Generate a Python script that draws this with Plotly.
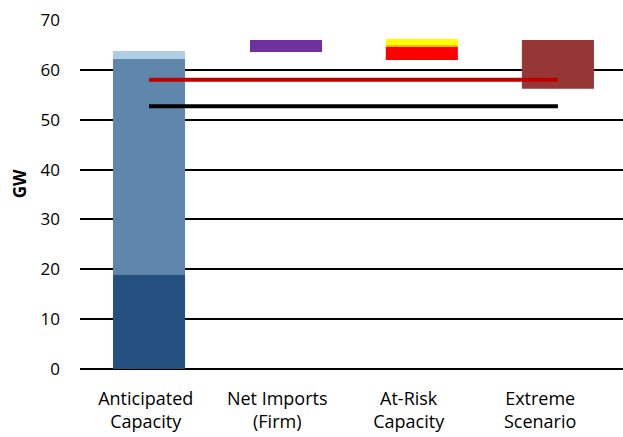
import plotly.graph_objects as go

# Category labels and their positions on the numeric x axis
categories = ["Anticipated<br>Capacity", "Net Imports<br>(Firm)", "At-Risk<br>Capacity", "Extreme<br>Scenario"]
category_pos = [0.5, 1.5, 2.5, 3.5]
bar_pos = [0.525, 1.567, 2.60, 3.635]
bar_width = 0.548

# Anticipated capacity stack (GW)
anticipated_base = [19.0]
anticipated_mid = [43.2]
anticipated_top = [1.6]

# Floating blocks (GW): base and height
net_imports_base = 63.6
net_imports = 2.4
at_risk_red = 2.6
at_risk_orange = 0.4
at_risk_yellow = 1.2
at_risk_base = 62.0
extreme_base = 56.2
extreme = 9.8

# Reference levels (GW)
red_level = 58.0
black_level = 52.7

fig = go.Figure()

def block(x, y, base, color):
    fig.add_trace(go.Bar(x=[x], y=[y], base=[base], width=bar_width,
                         marker=dict(color=color, line=dict(width=0)),
                         showlegend=False, hoverinfo="skip"))

block(bar_pos[0], anticipated_base[0], 0, "#23507F")
block(bar_pos[0], anticipated_mid[0], anticipated_base[0], "#5F87AC")
block(bar_pos[0], anticipated_top[0], anticipated_base[0] + anticipated_mid[0], "#AFCDE3")
block(bar_pos[1], net_imports, net_imports_base, "#7030A0")
block(bar_pos[2], at_risk_red, at_risk_base, "#FF0000")
block(bar_pos[2], at_risk_orange, at_risk_base + at_risk_red, "#FFC000")
block(bar_pos[2], at_risk_yellow, at_risk_base + at_risk_red + at_risk_orange, "#FFFF00")
block(bar_pos[3], extreme, extreme_base, "#963735")

fig.add_trace(go.Scatter(x=[bar_pos[0], bar_pos[3]], y=[red_level, red_level], mode="lines",
                         line=dict(color="#C00000", width=4), showlegend=False, hoverinfo="skip"))
fig.add_trace(go.Scatter(x=[bar_pos[0], bar_pos[3]], y=[black_level, black_level], mode="lines",
                         line=dict(color="#000000", width=4), showlegend=False, hoverinfo="skip"))

font_family = "Open Sans, Liberation Sans, sans-serif"

fig.update_layout(
    width=623, height=437,
    margin=dict(l=80, r=0, t=20, b=68),
    plot_bgcolor="white", paper_bgcolor="white",
    barmode="overlay",
    font=dict(family=font_family, size=17, color="#000000"),
    xaxis=dict(range=[0, 4.13], tickvals=category_pos, ticktext=categories,
               showgrid=False, zeroline=False, showline=False, ticks="",
               tickfont=dict(size=18), ticklabelstandoff=17),
    yaxis=dict(range=[0, 70], dtick=10, showgrid=True, gridcolor="#000000", gridwidth=1.6,
               zeroline=True, zerolinecolor="#000000", zerolinewidth=1.8,
               showline=False, ticks="", tickfont=dict(size=17), ticklabelstandoff=19),
    annotations=[dict(text="<b>GW</b>", textangle=-90, xref="paper", yref="paper",
                      x=-0.112, y=0.53, xanchor="center", yanchor="middle",
                      showarrow=False, font=dict(size=17))],
)

fig.write_html("out.html")
